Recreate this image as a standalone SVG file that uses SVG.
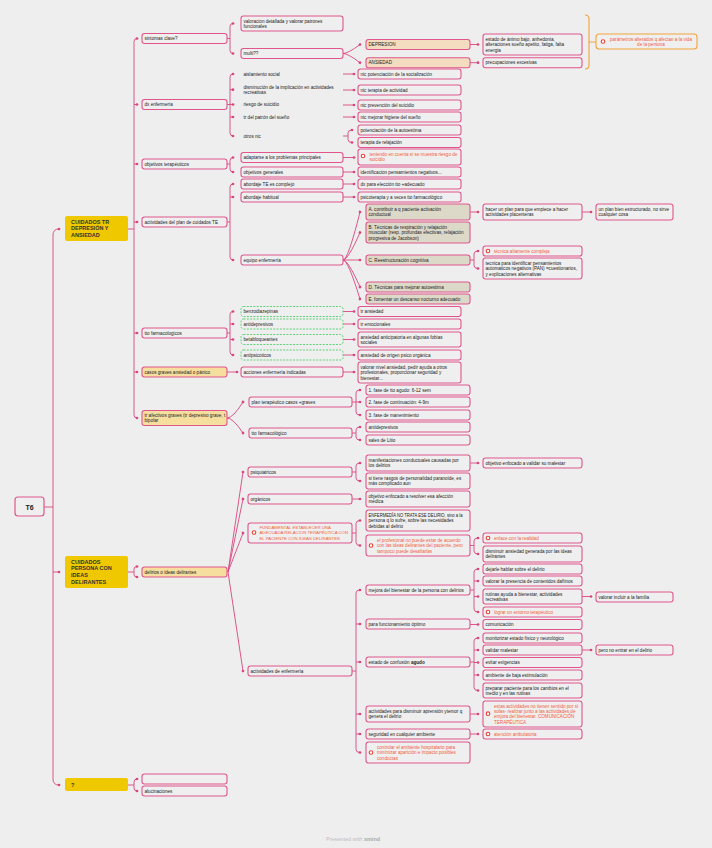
<svg xmlns="http://www.w3.org/2000/svg" width="712" height="848" viewBox="0 0 712 848">
<defs>
<marker id="d" viewBox="0 0 4 4" refX="2" refY="2" markerWidth="3.2" markerHeight="3.2" markerUnits="userSpaceOnUse" orient="auto"><circle cx="2" cy="2" r="1.7" fill="#d9457e"/></marker>
<style>
.bx{fill:#efefef;stroke:#e0568c;stroke-width:1.1}
.ly{fill:#f5de9e;stroke:#e0568c;stroke-width:1.1}
.pe{fill:#f4dcc0;stroke:#e0568c;stroke-width:1.1}
.bg{fill:#ddd9c9;stroke:#e0568c;stroke-width:1.1}
.gd{fill:#efefef;stroke:#4fcf6c;stroke-width:0.9;stroke-dasharray:2 1.3}
.or{fill:#efefef;stroke:#f2a33a;stroke-width:1.1}
.mn{fill:#f0c800}
.t{font-family:"Liberation Sans",Arial,sans-serif;font-size:4.6px;fill:#222}
.o{fill:#f2603f}
.h{font-family:"Liberation Sans",Arial,sans-serif;font-size:5.5px;font-weight:bold;fill:#333}
.ic{fill:#fff;stroke:#e8403a;stroke-width:1.1}
.c path{fill:none;stroke:#d9457e;stroke-width:0.9}
.c .ce{marker-end:url(#d)}
.c .cb{marker-start:url(#d);marker-end:url(#d)}
</style>
</defs>
<rect width="712" height="848" fill="#eeeeee"/>

<g id="connectors" class="c">
<path d="M44 507H53"/>
<path class="cb" d="M59 229Q53 229 53 235V779Q53 785 59 785"/>
<path class="ce" d="M53 572H59"/>
<path d="M128 229H134"/>
<path class="cb" d="M137 38.5Q134 38.5 134 41.5V415Q134 418 137 418"/>
<path class="ce" d="M134 104.5H137"/>
<path class="ce" d="M134 164H137"/>
<path class="ce" d="M134 222H137"/>
<path class="ce" d="M134 333H137"/>
<path class="ce" d="M134 372H137"/>
<path d="M226 38.5H230"/>
<path class="cb" d="M233 23.5Q230 23.5 230 26.5V50.5Q230 53.5 233 53.5"/>
<path class="ce" d="M343 53.5Q348 53.5 360 44.5"/>
<path class="ce" d="M343 53.5Q348 53.5 360 62.7"/>
<path class="ce" d="M470 44.5H478"/>
<path class="ce" d="M470 62.7H478"/>
<path d="M585 15Q589 15 589 19V65Q589 69 585 69M589 42H596" style="stroke:#f2a33a;stroke-width:1.1"/>
<path d="M226 104.5H230"/>
<path class="cb" d="M233 74Q230 74 230 77V133Q230 136 233 136"/>
<path class="ce" d="M230 89.7H233"/>
<path class="ce" d="M230 104.5H233"/>
<path class="ce" d="M230 117H233"/>
<path class="ce" d="M343 74H354"/>
<path class="ce" d="M343 90H354"/>
<path class="ce" d="M343 105H354"/>
<path class="ce" d="M343 117H354"/>
<path d="M343 136H348"/>
<path class="cb" d="M352 130Q348 130 348 133V139.5Q348 142.5 352 142.5"/>
<path d="M226 164H230"/>
<path class="cb" d="M233 157.5Q230 157.5 230 160.5V169Q230 172 233 172"/>
<path class="ce" d="M343 157.5H354"/>
<path class="ce" d="M343 172H354"/>
<path d="M226 222H230"/>
<path class="cb" d="M233 184Q230 184 230 187V257Q230 260 233 260"/>
<path class="ce" d="M230 197H233"/>
<path class="ce" d="M343 184H354"/>
<path class="ce" d="M343 197H354"/>
<path class="ce" d="M343 260Q348 260 360 212"/>
<path class="ce" d="M343 260Q348 260 360 232.5"/>
<path class="ce" d="M343 260H360"/>
<path class="ce" d="M343 260Q348 260 360 287"/>
<path class="ce" d="M343 260Q348 260 360 299"/>
<path class="ce" d="M470 212H478"/>
<path class="ce" d="M582 212H591"/>
<path d="M470 260H474"/>
<path class="cb" d="M478 251Q474 251 474 254V265.5Q474 268.5 478 268.5"/>
<path d="M226 333H230"/>
<path class="cb" d="M233 311.5Q230 311.5 230 314.5V352Q230 355 233 355"/>
<path class="ce" d="M230 324H233"/>
<path class="ce" d="M230 339.5H233"/>
<path class="ce" d="M343 311.5H354"/>
<path class="ce" d="M343 324H354"/>
<path class="ce" d="M343 339.5H354"/>
<path class="ce" d="M343 355H354"/>
<path class="ce" d="M227 372H237"/>
<path class="ce" d="M343 372H354"/>
<path class="ce" d="M227 418Q233 418 243 402"/>
<path class="ce" d="M227 418Q233 418 243 433"/>
<path class="ce" d="M352 402H360"/>
<path class="cb" d="M360 390Q356 390 356 393V412Q356 415 360 415"/>
<path d="M352 433H356"/>
<path class="cb" d="M360 427Q356 427 356 430V437Q356 440 360 440"/>
<path d="M128 572H134"/>
<path class="cb" d="M137 566.5Q134 566.5 134 569V574.5Q134 577 137 577"/>
<path class="ce" d="M228 572L243 472"/>
<path class="ce" d="M228 572L243 499"/>
<path class="ce" d="M228 572L243 533"/>
<path class="ce" d="M228 572L243 671"/>
<path d="M352 472H356"/>
<path class="cb" d="M360 463Q356 463 356 466V478Q356 481 360 481"/>
<path class="ce" d="M470 463H478"/>
<path class="ce" d="M352 499H360"/>
<path d="M352 533H356"/>
<path class="cb" d="M360 520.5Q356 520.5 356 523.5V542.5Q356 545.5 360 545.5"/>
<path d="M470 545.5H474"/>
<path class="cb" d="M478 538Q474 538 474 541V551Q474 554 478 554"/>
<path d="M352 671H356"/>
<path class="cb" d="M360 590Q356 590 356 593V749.5Q356 752.5 360 752.5"/>
<path class="ce" d="M356 624H360"/>
<path class="ce" d="M356 662H360"/>
<path class="ce" d="M356 714H360"/>
<path class="ce" d="M356 734H360"/>
<path d="M470 590H474"/>
<path class="cb" d="M478 569Q474 569 474 572V609Q474 612 478 612"/>
<path class="ce" d="M474 581H478"/>
<path class="ce" d="M474 596.5H478"/>
<path class="ce" d="M582 596.5H591"/>
<path class="ce" d="M470 624.5H478"/>
<path d="M470 662H474"/>
<path class="cb" d="M478 638Q474 638 474 641V687.5Q474 690.5 478 690.5"/>
<path class="ce" d="M474 650H478"/>
<path class="ce" d="M474 662.5H478"/>
<path class="ce" d="M474 675H478"/>
<path class="ce" d="M582 650H591"/>
<path class="ce" d="M470 714H478"/>
<path class="ce" d="M470 734H478"/>
<path d="M128 785H134"/>
<path class="cb" d="M137 779Q134 779 134 782V788Q134 791 137 791"/>
</g>

<g id="root"><rect x="15" y="497" width="29" height="19" rx="3" class="bx" style="stroke-width:1.2"/><text x="29.5" y="509.5" class="h" style="font-size:7px;fill:#222" text-anchor="middle">T6</text></g>

<g id="m1"><rect x="65" y="216" width="63" height="25" rx="2" class="mn"/><text class="h"><tspan x="71" y="223.7">CUIDADOS TR</tspan><tspan x="71" y="230.2">DEPRESIÓN Y</tspan><tspan x="71" y="236.7">ANSIEDAD</tspan></text></g>
<g id="m2"><rect x="65" y="556" width="63" height="32" rx="2" class="mn"/><text class="h"><tspan x="71" y="563.7">CUIDADOS</tspan><tspan x="71" y="570.3">PERSONA CON</tspan><tspan x="71" y="576.9">IDEAS</tspan><tspan x="71" y="583.5">DELIRANTES</tspan></text></g>
<g id="m3"><rect x="65" y="778" width="63" height="13" rx="2" class="mn"/><text class="h" x="71" y="786.7">?</text></g>

<g id="sint"><rect x="142" y="33.5" width="85" height="10" rx="2.5" class="bx"/><text class="t" x="144.5" y="40.2">sintomas clave?</text></g>
<g id="dxenf"><rect x="142" y="99.5" width="85" height="10" rx="2.5" class="bx"/><text class="t" x="144.5" y="106.2">dx enfermería</text></g>
<g id="objt"><rect x="142" y="159" width="85" height="10" rx="2.5" class="bx"/><text class="t" x="144.5" y="165.7">objetivos terapéuticos</text></g>
<g id="actp"><rect x="142" y="217" width="85" height="10" rx="2.5" class="bx"/><text class="t" x="144.5" y="223.7">actividades del plan de cuidados TE</text></g>
<g id="ttof"><rect x="142" y="328" width="85" height="10" rx="2.5" class="bx"/><text class="t" x="144.5" y="334.7">tto farmacologicos</text></g>
<g id="casos"><rect x="142" y="367" width="85" height="10" rx="2.5" class="ly"/><text class="t" x="144.5" y="373.7">casos graves ansiedad o pánico</text></g>
<g id="trafe"><rect x="142" y="410.5" width="85" height="15" rx="2.5" class="ly"/><text class="t"><tspan x="144.5" y="417">tr afectivos graves (tr depresivo grave, t</tspan><tspan x="144.5" y="422.4">bipolar</tspan></text></g>

<g id="valor"><rect x="241" y="16" width="102" height="15" rx="2.5" class="bx"/><text class="t"><tspan x="243.5" y="22.5">valoracion detallada y valorar patrones</tspan><tspan x="243.5" y="27.9">funcionales</tspan></text></g>
<g id="multi"><rect x="241" y="48.5" width="102" height="10" rx="2.5" class="bx"/><text class="t" x="243.5" y="55.2">multi??</text></g>
<g id="depre"><rect x="366" y="39.5" width="104" height="10" rx="2.5" class="pe"/><text class="t" x="368.5" y="46.2">DEPRESION</text></g>
<g id="ansie"><rect x="366" y="57.7" width="104" height="10" rx="2.5" class="pe"/><text class="t" x="368.5" y="64.4">ANSIEDAD</text></g>
<g id="estado"><rect x="483" y="34" width="99" height="21" rx="2.5" class="bx"/><text class="t"><tspan x="485.5" y="40.8">estado de ánimo bajo, anhedonia,</tspan><tspan x="485.5" y="46.2">alteraciones sueño apetito, fatiga, falta</tspan><tspan x="485.5" y="51.6">energia</tspan></text></g>
<g id="precu"><rect x="483" y="57.7" width="99" height="10" rx="2.5" class="bx"/><text class="t" x="485.5" y="64.4">precupaciones excesivas</text></g>
<g id="param"><rect x="596" y="34" width="101" height="15" rx="3" class="or"/><circle cx="603" cy="41.5" r="1.8" class="ic"/><text class="t o" text-anchor="middle"><tspan x="651" y="41">parámetros alterados q afectan a la vida</tspan><tspan x="651" y="46.4">de la persona</tspan></text></g>

<g id="aisl"><text class="t" x="243.5" y="75.7">aislamiento social</text></g>
<g id="dismi"><text class="t"><tspan x="243.5" y="88.7">disminución de la implicación en actividades</tspan><tspan x="243.5" y="94.1">recreativas</tspan></text></g>
<g id="riesgo"><text class="t" x="243.5" y="106.4">riesgo de suicidio</text></g>
<g id="trpat"><text class="t" x="243.5" y="118.7">tr del patrón del sueño</text></g>
<g id="otros"><text class="t" x="243.5" y="137.7">otros nic</text></g>

<g id="nic1"><rect x="358" y="69" width="103" height="10" rx="2.5" class="bx"/><text class="t" x="360.5" y="75.7">nic potenciación de la socialización</text></g>
<g id="nic2"><rect x="358" y="85" width="103" height="10" rx="2.5" class="bx"/><text class="t" x="360.5" y="91.7">nic terapia de actividad</text></g>
<g id="nic3"><rect x="358" y="100" width="103" height="10" rx="2.5" class="bx"/><text class="t" x="360.5" y="106.7">nic prevención del suicidio</text></g>
<g id="nic4"><rect x="358" y="112" width="103" height="10" rx="2.5" class="bx"/><text class="t" x="360.5" y="118.7">nic mejorar higiene del sueño</text></g>
<g id="nic5"><rect x="358" y="125" width="103" height="10" rx="2.5" class="bx"/><text class="t" x="360.5" y="131.7">potenciación de la autoestima</text></g>
<g id="nic6"><rect x="358" y="137.5" width="103" height="10" rx="2.5" class="bx"/><text class="t" x="360.5" y="144.2">terapia de relajación</text></g>

<g id="adap"><rect x="241" y="152.5" width="102" height="10" rx="2.5" class="bx"/><text class="t" x="243.5" y="159.2">adaptarse a los problemas principales</text></g>
<g id="objg"><rect x="241" y="167" width="102" height="10" rx="2.5" class="bx"/><text class="t" x="243.5" y="173.7">objetivos generales</text></g>
<g id="teni"><rect x="358" y="149" width="103" height="16" rx="2.5" class="bx"/><circle cx="363" cy="156" r="1.8" class="ic"/><text class="t o"><tspan x="369.5" y="156">teniendo en cuenta si se muestra riesgo de</tspan><tspan x="369.5" y="161.4">suicidio</tspan></text></g>
<g id="ident"><rect x="358" y="167" width="103" height="10" rx="2.5" class="bx"/><text class="t" x="360.5" y="173.7">identificacion pensamientos negativos...</text></g>

<g id="abte"><rect x="241" y="179" width="102" height="10" rx="2.5" class="bx"/><text class="t" x="243.5" y="185.7">abordaje TE es complejo</text></g>
<g id="abha"><rect x="241" y="192" width="102" height="10" rx="2.5" class="bx"/><text class="t" x="243.5" y="198.7">abordaje habitual</text></g>
<g id="equi"><rect x="241" y="255" width="102" height="10" rx="2.5" class="bx"/><text class="t" x="243.5" y="261.7">equipo enfermería</text></g>
<g id="dxpa"><rect x="358" y="179" width="103" height="10" rx="2.5" class="bx"/><text class="t" x="360.5" y="185.7">dx para elección tto +adecuado</text></g>
<g id="psic"><rect x="358" y="192" width="103" height="10" rx="2.5" class="bx"/><text class="t" x="360.5" y="198.7">psicoterapia y a veces tto farmacológico</text></g>
<g id="tA"><rect x="366" y="204" width="104" height="16" rx="2.5" class="bg"/><text class="t"><tspan x="368.5" y="211">A. contribuir a q paciente activación</tspan><tspan x="368.5" y="216.4">conductual</tspan></text></g>
<g id="tB"><rect x="366" y="222" width="104" height="21" rx="2.5" class="bg"/><text class="t"><tspan x="368.5" y="228.8">B. Técnicas de respiración y relajación</tspan><tspan x="368.5" y="234.2">muscular (resp. profundas efectivas, relajación</tspan><tspan x="368.5" y="239.6">progresiva de Jacobson)</tspan></text></g>
<g id="tC"><rect x="366" y="255" width="104" height="10" rx="2.5" class="bg"/><text class="t" x="368.5" y="261.7">C. Reestructuración cognitiva</text></g>
<g id="tD"><rect x="366" y="282" width="104" height="10" rx="2.5" class="bg"/><text class="t" x="368.5" y="288.7">D. Técnicas para mejorar autoestima</text></g>
<g id="tE"><rect x="366" y="294" width="104" height="10" rx="2.5" class="bg"/><text class="t" x="368.5" y="300.7">E. fomentar un descanso nocturno adecuado</text></g>
<g id="hacer"><rect x="483" y="204" width="99" height="16" rx="2.5" class="bx"/><text class="t"><tspan x="485.5" y="211">hacer un plan para que empiece a hacer</tspan><tspan x="485.5" y="216.4">actividades placenteras</tspan></text></g>
<g id="unplan"><rect x="596" y="204" width="77" height="16" rx="2.5" class="bx"/><text class="t"><tspan x="598.5" y="211">un plan bien estructurado, no sirve</tspan><tspan x="598.5" y="216.4">cualquier cosa</tspan></text></g>
<g id="tecal"><rect x="483" y="246" width="99" height="10" rx="2.5" class="bx"/><circle cx="488" cy="251" r="1.8" class="ic"/><text class="t o" x="494" y="252.7">técnica altamente compleja</text></g>
<g id="tecpan"><rect x="483" y="258" width="99" height="21" rx="2.5" class="bx"/><text class="t"><tspan x="485.5" y="264.8">tecnica para identificar pensamientos</tspan><tspan x="485.5" y="270.2">automaticos negativos (PAN) =cuestionarios,</tspan><tspan x="485.5" y="275.6">y explicaciones alternativas</tspan></text></g>

<g id="benzo"><rect x="241" y="306.5" width="102" height="10" rx="2.5" class="gd"/><text class="t" x="243.5" y="313.2">benzodiazepinas</text></g>
<g id="antid"><rect x="241" y="319" width="102" height="10" rx="2.5" class="gd"/><text class="t" x="243.5" y="325.7">antidepresivos</text></g>
<g id="beta"><rect x="241" y="334.5" width="102" height="10" rx="2.5" class="gd"/><text class="t" x="243.5" y="341.2">betabloqueantes</text></g>
<g id="antip"><rect x="241" y="350" width="102" height="10" rx="2.5" class="gd"/><text class="t" x="243.5" y="356.7">antipsicoticos</text></g>
<g id="trans"><rect x="358" y="306.5" width="103" height="10" rx="2.5" class="bx"/><text class="t" x="360.5" y="313.2">tr ansiedad</text></g>
<g id="tremo"><rect x="358" y="319" width="103" height="10" rx="2.5" class="bx"/><text class="t" x="360.5" y="325.7">tr emocionales</text></g>
<g id="anant"><rect x="358" y="332" width="103" height="15" rx="2.5" class="bx"/><text class="t"><tspan x="360.5" y="338.5">ansiedad anticipatoria en algunas fobias</tspan><tspan x="360.5" y="343.9">sociales</tspan></text></g>
<g id="anorg"><rect x="358" y="350" width="103" height="10" rx="2.5" class="bx"/><text class="t" x="360.5" y="356.7">ansiedad de origen psico orgánica</text></g>

<g id="acci"><rect x="241" y="367" width="102" height="10" rx="2.5" class="bx"/><text class="t" x="243.5" y="373.7">acciones enfermería indicadas</text></g>
<g id="valniv"><rect x="358" y="362" width="103" height="21" rx="2.5" class="bx"/><text class="t"><tspan x="360.5" y="368.8">valorar nivel ansiedad, pedir ayuda a otros</tspan><tspan x="360.5" y="374.2">profesionales, proporcionar seguridad y</tspan><tspan x="360.5" y="379.6">bienestar...</tspan></text></g>

<g id="planter"><rect x="249" y="397" width="103" height="10" rx="2.5" class="bx"/><text class="t" x="251.5" y="403.7">plan terapéutico casos +graves</text></g>
<g id="ttofa"><rect x="249" y="428" width="103" height="10" rx="2.5" class="bx"/><text class="t" x="251.5" y="434.7">tto farmacológico</text></g>
<g id="f1"><rect x="366" y="385" width="104" height="10" rx="2.5" class="bx"/><text class="t" x="368.5" y="391.7">1. fase de tto agudo: 6-12 sem</text></g>
<g id="f2"><rect x="366" y="397" width="104" height="10" rx="2.5" class="bx"/><text class="t" x="368.5" y="403.7">2. fase de continuación: 4-9m</text></g>
<g id="f3"><rect x="366" y="410" width="104" height="10" rx="2.5" class="bx"/><text class="t" x="368.5" y="416.7">3. fase de manenimiento</text></g>
<g id="antid2"><rect x="366" y="422" width="104" height="10" rx="2.5" class="bx"/><text class="t" x="368.5" y="428.7">antidepresivos</text></g>
<g id="litio"><rect x="366" y="435" width="104" height="10" rx="2.5" class="bx"/><text class="t" x="368.5" y="441.7">sales de Litio</text></g>

<g id="delir"><rect x="142" y="567" width="85" height="10" rx="2.5" class="ly"/><text class="t" x="144.5" y="573.7">delirios o ideas delirantes</text></g>
<g id="psiq"><rect x="248" y="467" width="104" height="10" rx="2.5" class="bx"/><text class="t" x="250.5" y="473.7">psiquiatricos</text></g>
<g id="organ"><rect x="248" y="494" width="104" height="10" rx="2.5" class="bx"/><text class="t" x="250.5" y="500.7">orgánicos</text></g>
<g id="fund"><rect x="248" y="523" width="104" height="20" rx="2.5" class="bx"/><circle cx="254" cy="532.5" r="1.8" class="ic"/><text class="t o" style="font-size:4.3px"><tspan x="259.5" y="529">FUNDAMENTAL ESTABLECER UNA</tspan><tspan x="259.5" y="534.4">ADECUADA RELACION TERAPÉUTICA CON</tspan><tspan x="259.5" y="539.8">EL PACIENTE CON IDEAS DELIRANTES</tspan></text></g>
<g id="actenf"><rect x="248" y="666" width="104" height="10" rx="2.5" class="bx"/><text class="t" x="250.5" y="672.7">actividades de enfermería</text></g>
<g id="manif"><rect x="366" y="455" width="104" height="16" rx="2.5" class="bx"/><text class="t"><tspan x="368.5" y="462">manifestaciones conductuales causadas por</tspan><tspan x="368.5" y="467.4">los delirios</tspan></text></g>
<g id="rasgo"><rect x="366" y="473" width="104" height="16" rx="2.5" class="bx"/><text class="t"><tspan x="368.5" y="480">si tiene rasgos de personalidad paranoide, es</tspan><tspan x="368.5" y="485.4">más complicado aun</tspan></text></g>
<g id="objval"><rect x="483" y="458" width="99" height="10" rx="2.5" class="bx"/><text class="t" x="485.5" y="464.7">objetivo enfocado a validar su malestar</text></g>
<g id="objres"><rect x="366" y="491" width="104" height="16" rx="2.5" class="bx"/><text class="t"><tspan x="368.5" y="498">objetivo enfocado a resolver esa afección</tspan><tspan x="368.5" y="503.4">médica</tspan></text></g>
<g id="enfno"><rect x="366" y="510" width="104" height="21" rx="2.5" class="bx"/><text class="t"><tspan x="368.5" y="516.8" textLength="94" lengthAdjust="spacingAndGlyphs">ENFERMEDÍA NO TRATA ESE DELIRIO, sino a la</tspan><tspan x="368.5" y="522.2">persona q lo sufre, sobre las necesidades</tspan><tspan x="368.5" y="527.6">debidas al delirio</tspan></text></g>
<g id="prof"><rect x="366" y="535" width="104" height="21" rx="2.5" class="bx"/><circle cx="371" cy="545.5" r="1.8" class="ic"/><text class="t o"><tspan x="377" y="541.8">el profesional no puede estar de acuerdo</tspan><tspan x="377" y="547.2">con las ideas delirantes del paciente, pero</tspan><tspan x="377" y="552.6">tampoco puede desafiarlas</tspan></text></g>
<g id="enlace"><rect x="483" y="533" width="99" height="10" rx="2.5" class="bx"/><circle cx="488" cy="538" r="1.8" class="ic"/><text class="t o" x="494" y="539.7">enlace con la realidad</text></g>
<g id="disans"><rect x="483" y="546" width="99" height="16" rx="2.5" class="bx"/><text class="t"><tspan x="485.5" y="553">disminuir ansiedad generada por las ideas</tspan><tspan x="485.5" y="558.4">delirantes</tspan></text></g>

<g id="mejora"><rect x="366" y="585" width="104" height="10" rx="2.5" class="bx"/><text class="t" x="368.5" y="591.7">mejora del bienestar de la persona con delirios</text></g>
<g id="parafun"><rect x="366" y="619" width="104" height="10" rx="2.5" class="bx"/><text class="t" x="368.5" y="625.7">para funcionamiento óptimo</text></g>
<g id="estconf"><rect x="366" y="657" width="104" height="10" rx="2.5" class="bx"/><text class="t" x="368.5" y="663.7">estado de confusión <tspan font-weight="bold">agudo</tspan></text></g>
<g id="actdis"><rect x="366" y="706" width="104" height="16" rx="2.5" class="bx"/><text class="t"><tspan x="368.5" y="713">actividades para disminuir aprensión ytemor q</tspan><tspan x="368.5" y="718.4">genera el delirio</tspan></text></g>
<g id="segur"><rect x="366" y="729" width="104" height="10" rx="2.5" class="bx"/><text class="t" x="368.5" y="735.7">seguridad en cualquier ambiente</text></g>
<g id="contr"><rect x="366" y="742" width="104" height="21" rx="2.5" class="bx"/><circle cx="371" cy="752.5" r="1.8" class="ic"/><text class="t o"><tspan x="377" y="748.8">controlar el ambiente hospitalario para</tspan><tspan x="377" y="754.2">minimizar aparición e impacto posibles</tspan><tspan x="377" y="759.6">conductas</tspan></text></g>
<g id="dejar"><rect x="483" y="564" width="99" height="10" rx="2.5" class="bx"/><text class="t" x="485.5" y="570.7">dejarle hablar sobre el delirio</text></g>
<g id="valpre"><rect x="483" y="576" width="99" height="10" rx="2.5" class="bx"/><text class="t" x="485.5" y="582.7">valorar la presencia de contenidos dañinos</text></g>
<g id="rutin"><rect x="483" y="589" width="99" height="15" rx="2.5" class="bx"/><text class="t"><tspan x="485.5" y="595.5">rutinas ayuda a bienestar, actividades</tspan><tspan x="485.5" y="600.9">recreativas</tspan></text></g>
<g id="lograr"><rect x="483" y="607" width="99" height="10" rx="2.5" class="bx"/><circle cx="488" cy="612" r="1.8" class="ic"/><text class="t o" x="494" y="613.7">lograr un entorno terapéutico</text></g>
<g id="valfam"><rect x="596" y="592" width="77" height="10" rx="2.5" class="bx"/><text class="t" x="598.5" y="598.7">valorar incluir a la familia</text></g>
<g id="comun"><rect x="483" y="619.5" width="99" height="10" rx="2.5" class="bx"/><text class="t" x="485.5" y="626.2">comunicación</text></g>
<g id="monit"><rect x="483" y="633" width="99" height="10" rx="2.5" class="bx"/><text class="t" x="485.5" y="639.7">monitorizar estado físico y neurológico</text></g>
<g id="valmal"><rect x="483" y="645" width="99" height="10" rx="2.5" class="bx"/><text class="t" x="485.5" y="651.7">validar malestar</text></g>
<g id="evit"><rect x="483" y="657.5" width="99" height="10" rx="2.5" class="bx"/><text class="t" x="485.5" y="664.2">evitar exigencias</text></g>
<g id="ambi"><rect x="483" y="670" width="99" height="10" rx="2.5" class="bx"/><text class="t" x="485.5" y="676.7">ambiente de baja estimulación</text></g>
<g id="prep"><rect x="483" y="683" width="99" height="15" rx="2.5" class="bx"/><text class="t"><tspan x="485.5" y="689.5">preparar paciente para los cambios en el</tspan><tspan x="485.5" y="694.9">medio y en las rutinas</tspan></text></g>
<g id="perono"><rect x="596" y="645" width="77" height="10" rx="2.5" class="bx"/><text class="t" x="598.5" y="651.7">pero no entrar en el delirio</text></g>
<g id="estas"><rect x="483" y="701" width="99" height="26" rx="2.5" class="bx"/><circle cx="488" cy="713.7" r="1.8" class="ic"/><text class="t o"><tspan x="494" y="707.6">estas actividades no tienen sentido por sí</tspan><tspan x="494" y="713">solas- realizar junto a las actividades de</tspan><tspan x="494" y="718.4">emjora del bienestar. COMUNICACIÓN</tspan><tspan x="494" y="723.8">TERAPÉUTICA</tspan></text></g>
<g id="atenc"><rect x="483" y="729" width="99" height="10" rx="2.5" class="bx"/><circle cx="488" cy="734" r="1.8" class="ic"/><text class="t o" x="494" y="735.7">atención ambulatoria</text></g>

<g id="vacio"><rect x="142" y="774" width="85" height="10" rx="2.5" class="bx"/></g>
<g id="aluc"><rect x="142" y="786" width="85" height="10" rx="2.5" class="bx"/><text class="t" x="144.5" y="792.7">alucinaciones</text></g>

<text x="326" y="841" style="font-family:'Liberation Sans',Arial,sans-serif;font-size:5.5px;fill:#bdbdbd">Presented with <tspan font-weight="bold" fill="#aaaaaa">xmind</tspan></text>
</svg>
